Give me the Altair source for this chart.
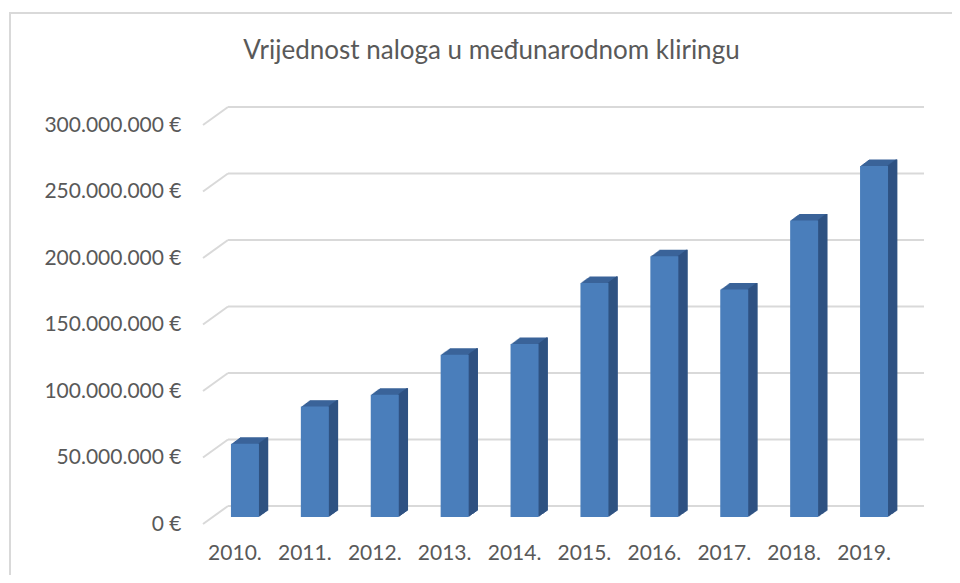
import altair as alt
import pandas as pd

years = ["2010.", "2011.", "2012.", "2013.", "2014.", "2015.", "2016.", "2017.", "2018.", "2019."]
values = [55_000_000, 83_000_000, 92_000_000, 122_000_000, 130_000_000,
          176_000_000, 196_000_000, 171_000_000, 223_000_000, 264_000_000]
grid_values = [0, 50_000_000, 100_000_000, 150_000_000, 200_000_000, 250_000_000, 300_000_000]
title_text = "Vrijednost naloga u međunarodnom kliringu"

df = pd.DataFrame({"year": years, "value": values})
gdf = pd.DataFrame({"g": grid_values})

FONT = "Lato"
TXT = "#595959"
FRONT = "#4a7ebb"
TOP = "#3a6399"
SIDE = "#2f5282"
GRID = "#d9d9d9"

W, H = 699, 399
DEPTH_X, DEPTH_Y = 25, -18
BAR_W = 28
BAR_DX, BAR_DY = 10, -7
EXT = 9
EXT_SLOPE = 0.72

yscale = alt.Scale(domain=[0, 300_000_000], nice=False, zero=True)
xscale = alt.Scale(domain=years, paddingInner=0, paddingOuter=0)

label_expr = "replace(format(datum.value, ','), regexp(',', 'g'), '.') + ' €'"

# outer frame
frame = alt.Chart(pd.DataFrame({"a": [0]})).mark_rect(
    fillOpacity=0, stroke=GRID, strokeWidth=2
).encode(x=alt.value(-190), x2=alt.value(900), y=alt.value(-112), y2=alt.value(600))

# back wall gridlines
grid = alt.Chart(gdf).mark_rule(color=GRID, strokeWidth=2, yOffset=DEPTH_Y).encode(
    y=alt.Y("g:Q", scale=yscale,
            axis=alt.Axis(values=grid_values, labelExpr=label_expr, domain=False, ticks=False,
                          grid=False, labelPadding=19, labelFont=FONT, labelFontSize=21,
                          labelColor=TXT, title=None)),
    x=alt.value(DEPTH_X + 3), x2=alt.value(W + DEPTH_X),
)

# side wall diagonals
diag = alt.Chart(gdf).mark_rule(color=GRID, strokeWidth=2, y2Offset=DEPTH_Y).encode(
    y=alt.Y("g:Q", scale=yscale), y2="g:Q",
    x=alt.value(3), x2=alt.value(DEPTH_X + 3),
)

xenc = alt.X("year:N", scale=xscale, sort=years,
             axis=alt.Axis(domain=False, ticks=False, labelAngle=0, labelPadding=18,
                           labelFont=FONT, labelFontSize=21, labelColor=TXT, title=None))
yenc = alt.Y("value:Q", scale=yscale)

layers = [frame, grid, diag]

# top face stack
for k in range(1, EXT + 1):
    layers.append(
        alt.Chart(df).mark_bar(width=BAR_W, color=TOP, xOffset=BAR_DX + k,
                               yOffset=BAR_DY - EXT_SLOPE * k).encode(x=xenc, y=yenc)
    )
# side face strips
for k in range(1, EXT + 1):
    layers.append(
        alt.Chart(df).mark_bar(width=1.8, color=SIDE, xOffset=BAR_DX + BAR_W / 2 + k - 0.6,
                               yOffset=BAR_DY - EXT_SLOPE * k).encode(x=xenc, y=yenc)
    )
# front face
layers.append(
    alt.Chart(df).mark_bar(width=BAR_W, color=FRONT, xOffset=BAR_DX, yOffset=BAR_DY).encode(
        x=xenc, y=yenc)
)

chart = alt.layer(*layers).properties(
    width=W, height=H,
    autosize=alt.AutoSizeParams(type="none"),
    padding={"left": 192, "top": 117, "right": 53, "bottom": 51},
    background="white",
    title=alt.TitleParams(title_text, font=FONT, fontSize=26, fontWeight="normal", color=TXT,
                          anchor="middle", dx=-58, offset=-52),
).configure_view(stroke=None)

chart.save("out.html", embed_options={"renderer": "svg", "actions": False})
